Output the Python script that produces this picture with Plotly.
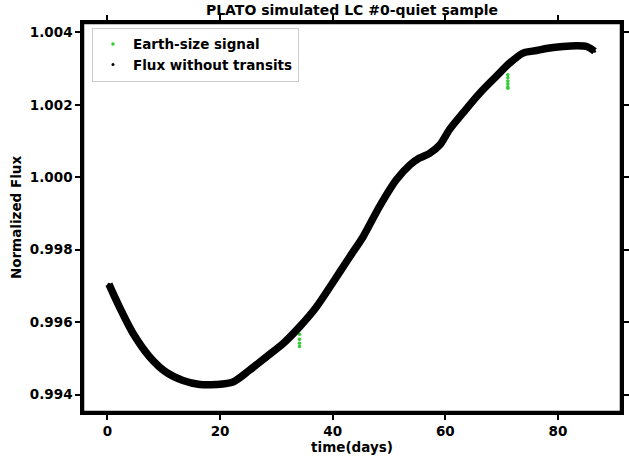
import plotly.graph_objects as go

# Flux without transits (band centre)
time_days = [0.25, 2.15, 4.5, 7.5, 10.4, 13.4, 16.4, 19.3, 22.3, 25.2, 28.2, 31.2,
             34.1, 37.1, 40.0, 43.0, 45.4, 48.3, 51.3, 53.7, 55.4, 57.2, 59.0,
             60.7, 63.1, 66.1, 69.0, 71.4, 73.8, 76.2, 78.5, 80.9, 83.3, 85.1, 86.5]
flux = [0.99705, 0.99641, 0.99570, 0.99504, 0.99462, 0.99439, 0.99428, 0.99428,
        0.99435, 0.99467, 0.99504, 0.99541, 0.99587, 0.99642, 0.99709, 0.99780,
        0.99836, 0.99919, 0.99993, 1.00034, 1.00053, 1.00066, 1.00089, 1.00131,
        1.00177, 1.00232, 1.00278, 1.00315, 1.00343, 1.00350, 1.00357, 1.00361,
        1.00363, 1.00361, 1.00348]

# Earth-size transit signal points
transit_t = [34.1, 34.1, 34.1, 34.1, 71.1, 71.1, 71.1, 71.1, 71.1, 71.1]
transit_f = [0.99567, 0.99553, 0.99542, 0.99533,
             1.00283, 1.00275, 1.00266, 1.00258, 1.00250, 1.00246]

x_ticks = [0, 20, 40, 60, 80]
y_ticks = [0.994, 0.996, 0.998, 1.000, 1.002, 1.004]
y_tick_labels = ["0.994", "0.996", "0.998", "1.000", "1.002", "1.004"]

FONT = "DejaVu Sans"
GREEN = "#32CD32"

fig = go.Figure()
fig.add_trace(go.Scatter(
    x=transit_t, y=transit_f, mode="markers", name="<b>Earth-size signal</b>",
    marker=dict(color=GREEN, size=3.5),
))
fig.add_trace(go.Scatter(
    x=time_days, y=flux, mode="lines", showlegend=False,
    line=dict(color="black", width=7.5, shape="spline", smoothing=0.8),
    hoverinfo="skip",
))
fig.add_trace(go.Scatter(
    x=time_days, y=flux, mode="markers", name="<b>Flux without transits</b>",
    marker=dict(color="black", size=3),
))

axis_common = dict(
    showline=True, linecolor="#000000", linewidth=2.5, mirror="allticks",
    ticks="outside", ticklen=5, tickwidth=2, tickcolor="black",
    showgrid=False, zeroline=False, automargin=False,
    tickfont=dict(family=FONT, size=13.5, color="black", weight="bold"),
)

fig.update_layout(
    width=629, height=460,
    margin=dict(l=83, r=8, t=23, b=48),
    paper_bgcolor="white", plot_bgcolor="white",
    title=dict(text="<b>PLATO simulated LC #0-quiet sample</b>",
               x=0.5596, xanchor="center", xref="container",
               y=0.988, yanchor="top", yref="container",
               font=dict(family=FONT, size=14, color="black")),
    xaxis=dict(range=[-4.35, 91.2], tickvals=x_ticks,
               title=dict(text="<b>time(days)</b>", standoff=2,
                          font=dict(family=FONT, size=13.5, color="black")),
               **axis_common),
    yaxis=dict(range=[0.99352, 1.00426], tickvals=y_ticks, ticktext=y_tick_labels,
               title=dict(text="<b>Normalized Flux</b>", standoff=6,
                          font=dict(family=FONT, size=13.5, color="black")),
               **axis_common),
    legend=dict(x=0.0167, y=0.988, xanchor="left", yanchor="top",
                bgcolor="rgba(255,255,255,0.8)", bordercolor="#cccccc", borderwidth=1,
                tracegroupgap=0,
                font=dict(family=FONT, size=13.5, color="black")),
    showlegend=True,
    shapes=[dict(type="rect", xref="paper", yref="paper", x0=0, x1=1, y0=0, y1=1,
                 line=dict(color="black", width=2.5), layer="above")],
)

fig.write_html("out.html", config={"displayModeBar": False},
               post_script="document.body.style.margin='0';document.body.style.padding='0';")
